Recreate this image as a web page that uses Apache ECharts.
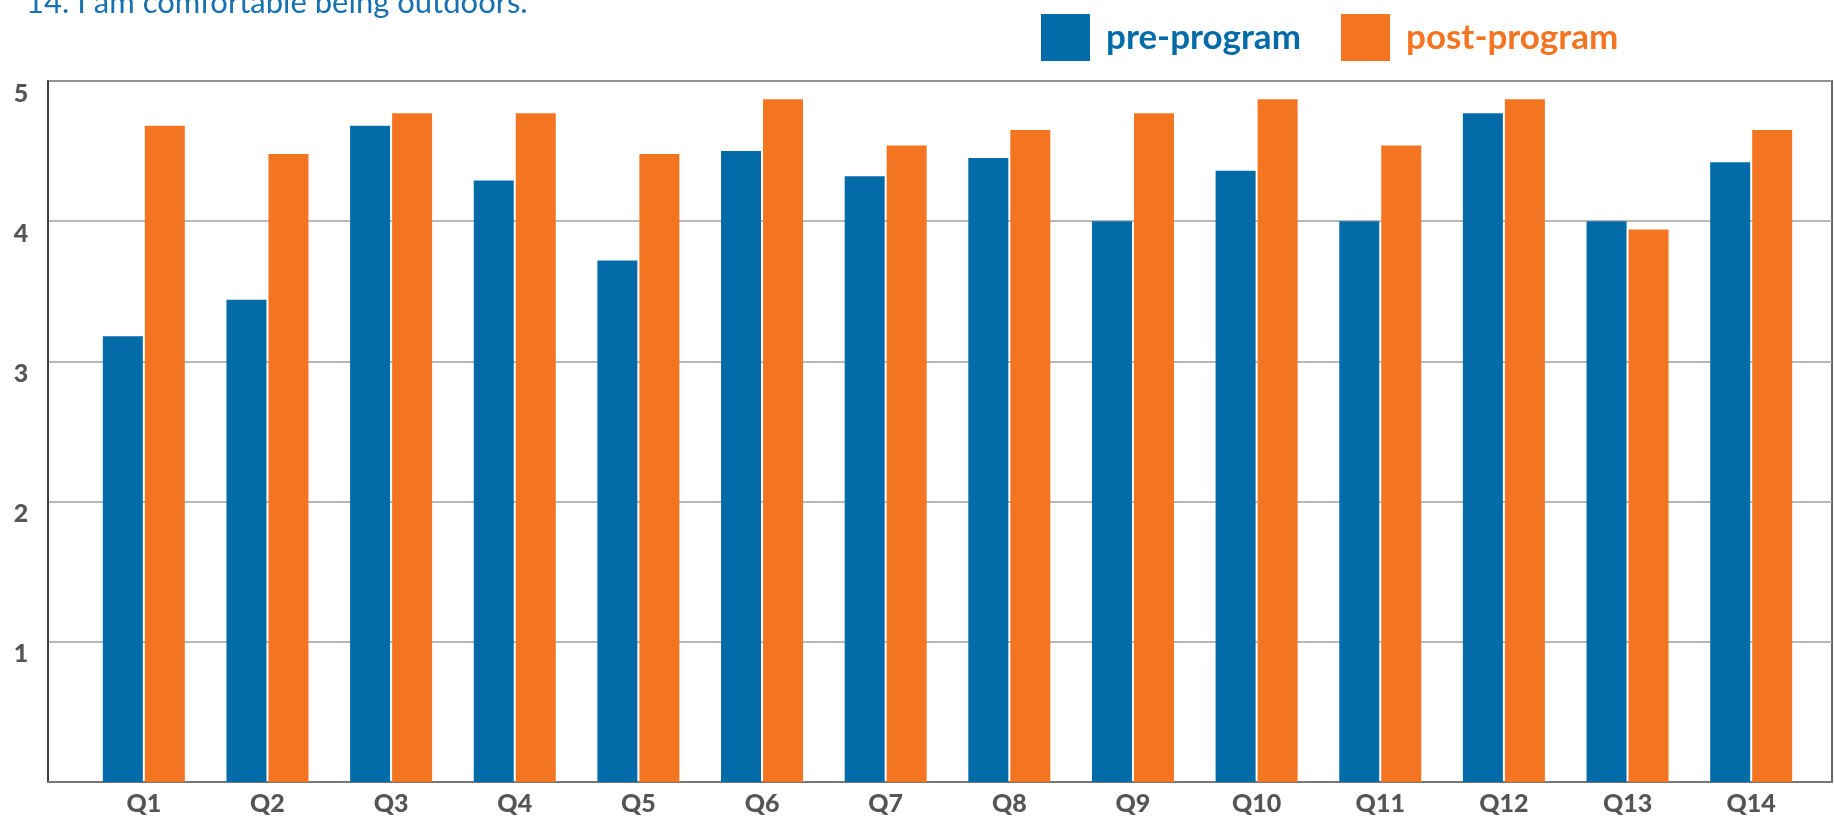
<!DOCTYPE html>
<html>
<head>
<meta charset="utf-8">
<title>pre/post program</title>
<script src="https://cdn.jsdelivr.net/npm/echarts@6/dist/echarts.min.js"></script>
<style>
    html, body { margin: 0; padding: 0; background: #fff; }
    #main { width: 1834px; height: 819px; }
</style>
</head>
<body>
<div id="main"></div>
<script>
// data
var questions = ['Q1', 'Q2', 'Q3', 'Q4', 'Q5', 'Q6', 'Q7', 'Q8', 'Q9', 'Q10', 'Q11', 'Q12', 'Q13', 'Q14'];
var preProgram = [3.18, 3.44, 4.68, 4.29, 3.72, 4.50, 4.32, 4.45, 4.00, 4.36, 4.00, 4.77, 4.00, 4.42];
var postProgram = [4.68, 4.48, 4.77, 4.77, 4.48, 4.87, 4.54, 4.65, 4.77, 4.87, 4.54, 4.87, 3.94, 4.65];
var yTicks = [0, 1, 2, 3, 4, 5];

var blue = '#036ca8';
var orange = '#f47521';
var font = 'Lato';

var myChart = echarts.init(document.getElementById('main'));

//one legend per series so each sits where it does in the picture
function legendItem(name, color, left) {
    return {
        left: left,
        top: 14,
        padding: 0,
        itemWidth: 49,
        itemHeight: 47,
        icon: 'rect',
        data: [{ name: name, textStyle: { color: color } }],
        textStyle: { fontFamily: font, fontWeight: 'bold', fontSize: 35, padding: [0, 0, 0, 11] }
    };
}

var option = {
    backgroundColor: '#fff',
    animation: false,
    title: {
        text: '14. I am comfortable being outdoors.',
        left: 26,
        top: -13,
        padding: 0,
        textStyle: { color: '#1771b0', fontFamily: font, fontWeight: 'normal', fontSize: 31 }
    },
    legend: [
        legendItem('pre-program', blue, 1041),
        legendItem('post-program', orange, 1341)
    ],
    // grid 0 = frame + y axis, grid 1 = the bars
    grid: [
        { left: 48, right: 2, top: 81, bottom: 37, show: true, borderColor: '#333', borderWidth: 1.5, backgroundColor: 'transparent' },
        { left: 82, right: 21, top: 81, bottom: 37 }
    ],
    xAxis: [
        {
            gridIndex: 0, type: 'category', data: questions,
            axisLine: { show: true, lineStyle: { color: '#777', width: 2 } },
            axisTick: { show: false }, axisLabel: { show: false }
        },
        {
            gridIndex: 1, type: 'category', data: questions,
            axisLine: { show: false }, axisTick: { show: false },
            axisLabel: { color: '#555', fontFamily: font, fontWeight: 900, fontSize: 25, margin: 9, verticalAlign: 'top' }
        }
    ],
    yAxis: [
        {
            gridIndex: 0, type: 'value', min: yTicks[0], max: yTicks[yTicks.length - 1], interval: 1,
            axisLine: { show: true, lineStyle: { color: '#333', width: 1.5 } },
            axisTick: { show: false },
            splitLine: { lineStyle: { color: '#a0a0a0', width: 1.5 } },
            axisLabel: {
                color: '#555', fontFamily: font, fontWeight: 900, fontSize: 25,
                align: 'center', verticalAlign: 'top', margin: 27, padding: [0, 0, 0, 0],
                formatter: function (v) { return v === 0 ? '' : String(v); }
            }
        },
        {
            gridIndex: 1, type: 'value', min: 0, max: 5, interval: 1, show: false
        }
    ],
    series: [
        {
            name: 'pre-program', type: 'bar', xAxisIndex: 1, yAxisIndex: 1,
            data: preProgram, barWidth: 40, barGap: '5%',
            itemStyle: { color: blue }
        },
        {
            name: 'post-program', type: 'bar', xAxisIndex: 1, yAxisIndex: 1,
            data: postProgram, barWidth: 40, barGap: '5%',
            itemStyle: { color: orange }
        }
    ]
};

myChart.setOption(option);
</script>
</body>
</html>
